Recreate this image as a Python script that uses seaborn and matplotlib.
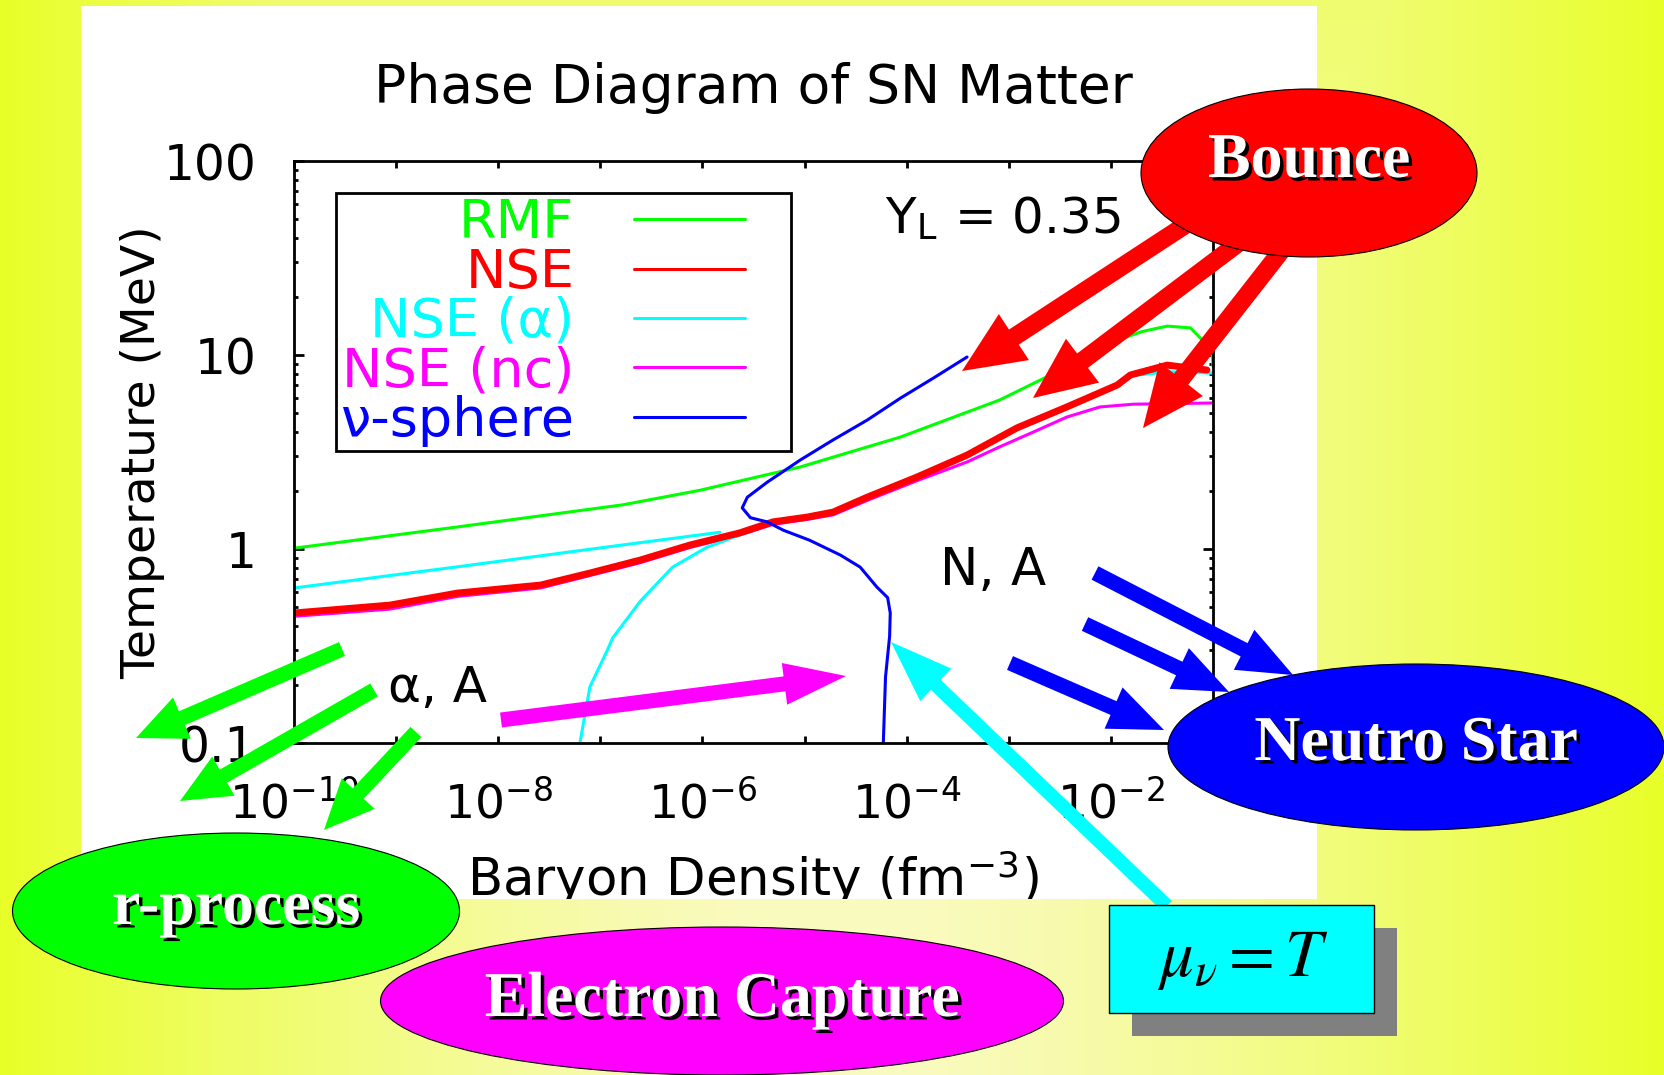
import numpy as np
import matplotlib
matplotlib.use("Agg")
import matplotlib.pyplot as plt
import matplotlib.patches as mpatches
import matplotlib.patheffects as pe
from matplotlib.lines import Line2D
from matplotlib.legend_handler import HandlerLine2D
from matplotlib.ticker import FixedLocator, FixedFormatter, LogLocator, NullFormatter, NullLocator
import seaborn as sns

# curves: baryon density (fm^-3), temperature (MeV)
rmf_n = [1e-10, 4.0e-9, 1.66e-7, 9.5e-7, 9.1e-6, 8.7e-5, 8.1e-4, 3.7e-3, 1.15e-2, 2.0e-2,
         3.55e-2, 6.0e-2, 7.9e-2, 9.8e-2, 1.0e-1]
rmf_T = [1.01, 1.30, 1.69, 2.01, 2.65, 3.78, 5.86, 8.67, 11.9, 13.2,
         14.1, 13.8, 11.9, 10.2, 8.7]

nse_n = [1e-10, 8.7e-10, 4.0e-9, 2.6e-8, 7.9e-8, 2.45e-7, 7.6e-7, 2.3e-6, 4.9e-6, 1.05e-5,
         1.9e-5, 4.1e-5, 1.26e-4, 3.9e-4, 1.2e-3, 3.7e-3, 1.15e-2, 1.55e-2, 3.55e-2, 8.7e-2]
nse_T = [0.468, 0.514, 0.593, 0.652, 0.752, 0.877, 1.05, 1.21, 1.38, 1.46,
         1.55, 1.85, 2.35, 3.05, 4.21, 5.40, 7.0, 7.89, 8.87, 8.37]

nc_n = [1e-10, 8.7e-10, 4.0e-9, 2.6e-8, 7.9e-8, 2.45e-7, 7.6e-7, 2.3e-6, 4.9e-6, 1.05e-5,
        1.9e-5, 4.1e-5, 1.26e-4, 3.9e-4, 8.1e-4, 1.74e-3, 3.7e-3, 7.8e-3, 1.66e-2, 1.0e-1]
nc_T = [0.45, 0.49, 0.57, 0.63, 0.73, 0.85, 1.02, 1.18, 1.34, 1.42,
        1.50, 1.78, 2.25, 2.81, 3.36, 4.01, 4.79, 5.40, 5.58, 5.66]

# NSE(alpha): low-density branch and the branch rising from 0.1 MeV
alpha_hi_n = [1e-10, 4.0e-9, 1.66e-7, 1.48e-6]
alpha_hi_T = [0.63, 0.81, 1.05, 1.22]
alpha_lo_n = [6.3e-8, 7.9e-8, 1.17e-7, 1.32e-7, 2.45e-7, 5.1e-7, 1.1e-6, 2.3e-6, 4.9e-6, 1.05e-5,
              1.9e-5, 4.1e-5, 1.26e-4, 3.9e-4, 1.2e-3, 3.7e-3, 1.15e-2, 1.55e-2, 3.55e-2, 1.0e-1]
alpha_lo_T = [0.1, 0.195, 0.301, 0.348, 0.537, 0.807, 1.02, 1.18, 1.37, 1.45,
              1.53, 1.83, 2.32, 3.0, 4.15, 5.3, 6.9, 7.8, 8.2, 8.07]

nusph_n = [5.9e-5, 6.2e-5, 6.8e-5, 6.9e-5, 6.5e-5, 5.1e-5, 3.5e-5, 2.24e-5, 1.12e-5, 6.2e-6,
           4.3e-6, 2.95e-6, 2.45e-6, 2.75e-6, 4.3e-6, 9.1e-6, 1.9e-5, 4.1e-5, 8.7e-5, 1.82e-4, 3.9e-4]
nusph_T = [0.1, 0.219, 0.355, 0.468, 0.562, 0.637, 0.807, 0.931, 1.11, 1.25,
           1.38, 1.45, 1.63, 1.85, 2.21, 2.88, 3.65, 4.62, 6.0, 7.6, 9.77]

legend_labels = ["RMF", "NSE", "NSE (α)", "NSE (nc)", "ν-sphere"]
legend_colors = ["#00ff00", "#ff0000", "#00ffff", "#ff00ff", "#0000ff"]

xtick_pos = [1e-10, 1e-9, 1e-8, 1e-7, 1e-6, 1e-5, 1e-4, 1e-3, 1e-2, 1e-1]
xtick_labels = [r"$\mathdefault{10^{-10}}$", "", r"$\mathdefault{10^{-8}}$", "",
                r"$\mathdefault{10^{-6}}$", "", r"$\mathdefault{10^{-4}}$", "",
                r"$\mathdefault{10^{-2}}$", ""]
ytick_pos = [0.1, 1, 10, 100]
ytick_labels = ["0.1", "1", "10", "100"]

sns.set_theme(style="ticks")
plt.rcParams['font.family'] = ['DejaVu Sans']
plt.rcParams['mathtext.fontset'] = 'stix'
plt.rcParams.update({'text.color': 'black', 'axes.labelcolor': 'black',
                     'xtick.color': 'black', 'ytick.color': 'black'})

W, H = 1664, 1075
fig = plt.figure(figsize=(W / 100, H / 100), dpi=100)

# yellow slide background + white panel behind the plot
bg = fig.add_axes([0, 0, 1, 1], zorder=0)
bg.set_xlim(0, W)
bg.set_ylim(H, 0)
bg.axis('off')
X, Y = np.meshgrid(np.linspace(0, 1, W), np.linspace(0, 1, H))
t = np.maximum(np.abs(X - 0.5) / 0.5, np.abs(Y - 1.0) / 1.5) ** 1.5
pale = np.array([250, 250, 195]) / 255
edge = np.array([232, 255, 40]) / 255
bg.imshow(pale + (edge - pale) * t[..., None], extent=[0, W, H, 0], aspect='auto')
panel = mpatches.Rectangle((81, 6), 1236, 893, fc='white', ec='none')
bg.add_patch(panel)

# main plot
ax = fig.add_axes([0.1767, 0.3088, 0.5523, 0.5414], zorder=1)
ax.set_facecolor('white')
ax.set_xscale('log')
ax.set_yscale('log')

sns.lineplot(x=nc_n, y=nc_T, sort=False, estimator=None, color="#ff00ff", lw=2.2, ax=ax)
sns.lineplot(x=alpha_hi_n, y=alpha_hi_T, sort=False, estimator=None, color="#00ffff", lw=2.2, ax=ax)
sns.lineplot(x=alpha_lo_n, y=alpha_lo_T, sort=False, estimator=None, color="#00ffff", lw=2.2, ax=ax)
sns.lineplot(x=rmf_n, y=rmf_T, sort=False, estimator=None, color="#00ff00", lw=2.2, ax=ax)
sns.lineplot(x=nse_n, y=nse_T, sort=False, estimator=None, color="#ff0000", lw=5, ax=ax)
sns.lineplot(x=nusph_n, y=nusph_T, sort=False, estimator=None, color="#0000ff", lw=2.2, ax=ax)

ax.set_xlim(1e-10, 1e-1)
ax.set_ylim(0.1, 100)
ax.xaxis.set_major_locator(FixedLocator(xtick_pos))
ax.xaxis.set_major_formatter(FixedFormatter(xtick_labels))
ax.xaxis.set_minor_locator(NullLocator())
ax.yaxis.set_major_locator(FixedLocator(ytick_pos))
ax.yaxis.set_major_formatter(FixedFormatter(ytick_labels))
ax.yaxis.set_minor_locator(LogLocator(base=10, subs=np.arange(2, 10)))
ax.yaxis.set_minor_formatter(NullFormatter())
ax.tick_params(which='both', direction='in', top=True, right=True,
               color='black', labelcolor='black', width=2)
ax.tick_params(axis='x', length=5, labelsize=34, pad=27)
ax.tick_params(axis='y', which='major', length=7, labelsize=35, pad=27)
ax.tick_params(axis='y', which='minor', length=3)
for s in ax.spines.values():
    s.set_linewidth(2)
    s.set_color('black')

ax.set_title("Phase Diagram of SN Matter", fontsize=38.5, pad=42)
ax.set_ylabel("Temperature (MeV)", fontsize=34)
ax.yaxis.set_label_coords(-0.14, 0.5)
ax.set_xlabel(r"Baryon Density (fm$^{\mathregular{-3}}$)", fontsize=37)
ax.xaxis.set_label_coords(0.5, -0.18)
ax.xaxis.label.set_clip_path(panel)

ax.text(0.899, 0.876, r"Y$_{\mathregular{L}}$ = 0.35", transform=ax.transAxes,
        ha='right', va='baseline', fontsize=36)
ax.text(8.3e-10, 0.163, "α, A", ha='left', va='baseline', fontsize=36)
ax.text(2.1e-4, 0.65, "N, A", ha='left', va='baseline', fontsize=37)


# legend sample lines stop short of the frame, leaving a right margin
class ShortLine(HandlerLine2D):
    def create_artists(self, legend, orig_handle, xdescent, ydescent, width, height, fontsize, trans):
        return super().create_artists(legend, orig_handle, xdescent, ydescent, width * 0.73,
                                      height, fontsize, trans)


handles = [Line2D([], [], color=c, lw=2.2) for c in legend_colors]
leg = ax.legend(handles, legend_labels, loc='upper left', bbox_to_anchor=(0.0457, 0.945),
                borderaxespad=0, markerfirst=False, labelcolor='linecolor', fontsize=39,
                frameon=True, fancybox=False, framealpha=1, edgecolor='black',
                handlelength=2.82, handletextpad=1.1, labelspacing=-0.05, borderpad=0.08,
                handler_map={Line2D: ShortLine()})
leg.get_frame().set_linewidth(2)

# annotation overlay in pixel coordinates
ov = fig.add_axes([0, 0, 1, 1], zorder=2)
ov.set_xlim(0, W)
ov.set_ylim(H, 0)
ov.axis('off')
ov.patch.set_alpha(0)


def arrow(x0, y0, x1, y1, color, w, hw, hl):
    ov.add_patch(mpatches.FancyArrow(x0, y0, x1 - x0, y1 - y0, width=w, head_width=hw,
                                     head_length=hl, length_includes_head=True,
                                     color=color, lw=0, zorder=1))


for a in [(1190, 222, 962, 371), (1240, 242, 1033, 398), (1282, 250, 1143, 428)]:
    arrow(*a, "#ff0000", 18, 55, 62)
for a in [(342, 649, 136, 738), (374, 690, 180, 801), (416, 732, 324, 830)]:
    arrow(*a, "#00ff00", 15, 45, 50)
for a in [(1095, 573, 1293, 675), (1085, 624, 1229, 692), (1010, 663, 1164, 730)]:
    arrow(*a, "#0000ff", 15, 45, 55)
arrow(501, 720, 846, 676, "#ff00ff", 15, 42, 62)
arrow(1167, 906, 891, 642, "#00ffff", 14, 45, 62)

shadow = [pe.withSimplePatchShadow(offset=(2.5, -2.5), shadow_rgbFace='black', alpha=1.0)]
for (cx, cy, ew, eh, fc, label, ty) in [(1309, 173, 336, 168, "#ff0000", "Bounce", 162),
                                         (1416, 747, 496, 166, "#0000ff", "Neutro Star", 745),
                                         (236, 911, 447, 156, "#00ff00", "r-process", 909),
                                         (722, 1001, 683, 148, "#ff00ff", "Electron Capture", 1001)]:
    ov.add_patch(mpatches.Ellipse((cx, cy), ew, eh, fc=fc, ec='black', lw=0.8, zorder=2))
    ov.text(cx, ty, label, ha='center', va='center', fontsize=46, color='white',
            family='Liberation Serif', weight='bold', path_effects=shadow, zorder=3)

ov.add_patch(mpatches.Rectangle((1132, 928), 265, 108, fc='#808080', ec='none', zorder=2))
ov.add_patch(mpatches.Rectangle((1109, 905), 265, 108, fc='#00ffff', ec='black', lw=1, zorder=2))
ov.text(1243, 959, r"$\mu_\nu = T$", ha='center', va='center', fontsize=48, zorder=3)

fig.savefig("out.png", dpi=100)
